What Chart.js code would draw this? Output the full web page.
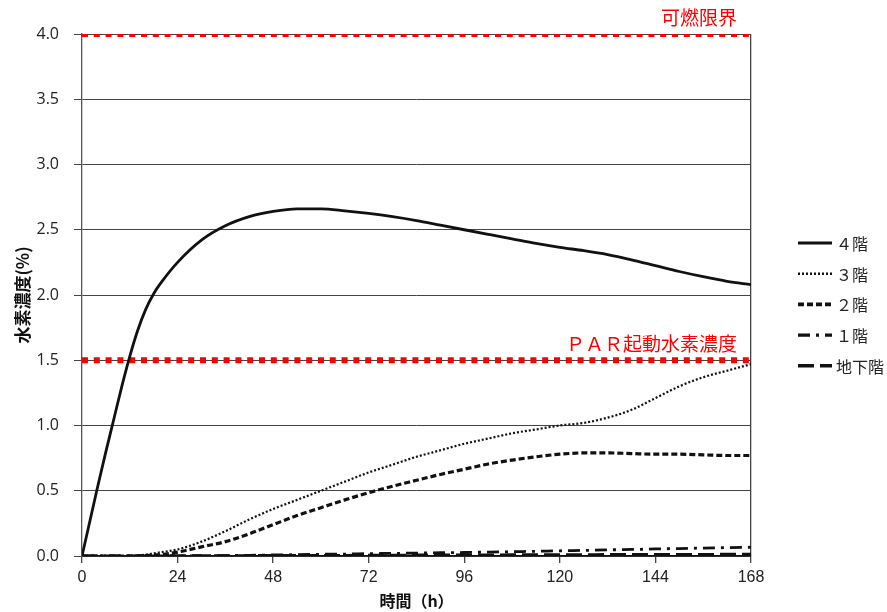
<!DOCTYPE html>
<html>
<head>
<meta charset="utf-8">
<script src="https://cdn.jsdelivr.net/npm/chart.js@4"></script>
<style>
  html, body { margin: 0; padding: 0; background: #fff; }
  #wrap { width: 887px; height: 612px; }
</style>
</head>
<body>
<div id="wrap"><canvas id="hChart" width="887" height="612"></canvas></div>
<script>
// 時間 (h)
const hours = [0, 2, 4, 6, 8, 10, 12, 14, 16, 18, 20, 24, 30, 36, 42, 48, 54, 60, 66, 72, 78, 84, 90,
  96, 102, 108, 114, 120, 126, 132, 138, 144, 150, 156, 162, 168];

// 水素濃度 (%)
const floor4 = [0, 0.27, 0.54, 0.80, 1.05, 1.30, 1.53, 1.73, 1.89, 2.01, 2.10, 2.25, 2.42, 2.53, 2.60, 2.64,
  2.66, 2.66, 2.645, 2.625, 2.60, 2.57, 2.535, 2.50, 2.465, 2.43, 2.395, 2.365, 2.34, 2.31, 2.27, 2.225,
  2.18, 2.14, 2.105, 2.08];
const floor3 = [0, 0, 0, 0, 0, 0, 0, 0.005, 0.01, 0.02, 0.03, 0.05, 0.11, 0.19, 0.28, 0.36,
  0.43, 0.50, 0.57, 0.64, 0.70, 0.76, 0.81, 0.86, 0.90, 0.94, 0.97, 1.00, 1.02, 1.06, 1.12, 1.21,
  1.30, 1.37, 1.42, 1.47];
const floor2 = [0, 0, 0, 0, 0, 0, 0, 0, 0.003, 0.007, 0.012, 0.03, 0.07, 0.11, 0.17, 0.24,
  0.31, 0.37, 0.43, 0.485, 0.535, 0.58, 0.625, 0.665, 0.705, 0.735, 0.76, 0.78, 0.79, 0.79, 0.785, 0.78,
  0.78, 0.775, 0.77, 0.77];
const floor1 = [0, 0, 0, 0, 0, 0, 0, 0, 0, 0, 0, 0.001, 0.002, 0.003, 0.005, 0.008,
  0.010, 0.013, 0.015, 0.018, 0.020, 0.022, 0.025, 0.027, 0.030, 0.033, 0.036, 0.040, 0.043, 0.047, 0.050, 0.054,
  0.057, 0.061, 0.064, 0.067];
const basement = [0, 0, 0, 0, 0, 0, 0, 0, 0, 0, 0, 0.001, 0.001, 0.002, 0.002, 0.003,
  0.003, 0.004, 0.004, 0.005, 0.005, 0.006, 0.006, 0.007, 0.007, 0.008, 0.008, 0.009, 0.009, 0.010, 0.010, 0.011,
  0.011, 0.011, 0.012, 0.012];

// 基準線
const limitValues = [4.0, 1.5];
const limitLabels = ['可燃限界', 'ＰＡＲ起動水素濃度'];

const xTicks = [0, 24, 48, 72, 96, 120, 144, 168];

const toPts = (arr) => hours.map((h, i) => ({ x: h, y: arr[i] }));

const series = [
  { label: '４階', data: floor4, dash: [], width: 2.8 },
  { label: '３階', data: floor3, dash: [2, 2], width: 2.2 },
  { label: '２階', data: floor2, dash: [6, 3], width: 3.2 },
  { label: '１階', data: floor1, dash: [12, 6, 3, 6], width: 2.8 },
  { label: '地下階', data: basement, dash: [16, 6], width: 3.2 }
];

const datasets = series.map(s => ({
  label: s.label,
  data: toPts(s.data),
  borderColor: '#111',
  borderWidth: s.width,
  borderDash: s.dash,
  pointRadius: 0,
  fill: false,
  cubicInterpolationMode: 'monotone',
  isSeries: true
}));

limitValues.forEach((v, i) => {
  datasets.push({
    label: limitLabels[i],
    data: [{ x: xTicks[0], y: v }, { x: xTicks[xTicks.length - 1], y: v }],
    borderColor: '#ff0000',
    borderWidth: 6,
    borderDash: [6, 5.8],
    borderCapStyle: 'butt',
    pointRadius: 0,
    fill: false,
    isLimit: true
  });
});

// 赤線ラベルと凡例
const extras = {
  id: 'extras',
  afterDatasetsDraw(chart) {
    const { ctx, scales: { x, y } } = chart;
    ctx.save();
    ctx.fillStyle = '#ff0000';
    ctx.font = '19px "Noto Sans CJK JP"';
    ctx.textAlign = 'right';
    ctx.textBaseline = 'alphabetic';
    limitValues.forEach((v, i) => {
      ctx.fillText(limitLabels[i], x.getPixelForValue(168) - 14, y.getPixelForValue(v) - 9);
    });

    // 凡例
    const legX = 798, legW = 34, textX = 836;
    let rowY = 243;
    chart.data.datasets.forEach(ds => {
      if (!ds.isSeries) return;
      ctx.strokeStyle = ds.borderColor;
      ctx.lineWidth = ds.borderWidth + 0.4;
      ctx.setLineDash(ds.borderDash);
      ctx.beginPath();
      ctx.moveTo(legX, rowY);
      ctx.lineTo(legX + legW, rowY);
      ctx.stroke();
      ctx.setLineDash([]);
      ctx.fillStyle = '#222';
      ctx.font = '16px "Noto Sans CJK JP"';
      ctx.textAlign = 'left';
      ctx.textBaseline = 'middle';
      ctx.fillText(ds.label, textX, rowY + 1);
      rowY += 30.7;
    });
    ctx.restore();
  }
};

new Chart(document.getElementById('hChart'), {
  type: 'line',
  data: { datasets },
  options: {
    responsive: false,
    animation: false,
    devicePixelRatio: 1,
    layout: { padding: { left: 0, top: 34, right: 136, bottom: 0 } },
    plugins: {
      legend: { display: false },
      tooltip: { enabled: false }
    },
    scales: {
      x: {
        type: 'linear',
        min: 0,
        max: 168,
        afterFit: (s) => { s.height = 56; },
        afterBuildTicks: (s) => { s.ticks = xTicks.map(v => ({ value: v })); },
        ticks: {
          font: { family: '"Liberation Sans Narrow", "Liberation Sans", sans-serif', size: 16 },
          color: '#222',
          padding: 5,
          maxRotation: 0
        },
        grid: {
          color: (c) => (c.tick && c.tick.value === 168) ? '#444' : 'rgba(0,0,0,0)',
          tickColor: '#444',
          tickLength: 7,
          lineWidth: 1.3
        },
        border: { color: '#111', width: 1.6 },
        title: {
          display: true,
          text: '時間（h）',
          font: { family: '"Noto Sans CJK JP"', size: 16, weight: 'bold' },
          color: '#111',
          padding: { top: 0, bottom: 1 }
        }
      },
      y: {
        min: 0,
        max: 4,
        afterFit: (s) => { s.width = 82; },
        ticks: {
          stepSize: 0.5,
          callback: (v) => v.toFixed(1),
          font: { family: '"Open Sans", sans-serif', size: 16 },
          color: '#222',
          padding: 15
        },
        grid: {
          color: '#444',
          tickColor: '#444',
          tickLength: 8,
          lineWidth: 1
        },
        border: { color: '#555', width: 1.3 },
        title: {
          display: true,
          text: '水素濃度(%)',
          font: { family: '"Noto Sans CJK JP"', size: 17, weight: 'bold' },
          color: '#111',
          padding: { top: 12, bottom: 0 }
        }
      }
    }
  },
  plugins: [extras]
});
</script>
</body>
</html>
